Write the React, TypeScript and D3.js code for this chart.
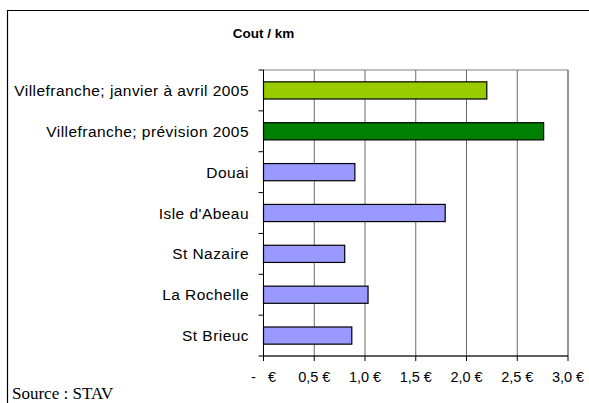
import React from "react";
import { scaleLinear, scaleBand } from "d3";

const categories = [
  "Villefranche; janvier à avril 2005",
  "Villefranche; prévision 2005",
  "Douai",
  "Isle d'Abeau",
  "St Nazaire",
  "La Rochelle",
  "St Brieuc",
];
const costs = [2.2, 2.76, 0.9, 1.79, 0.8, 1.03, 0.87];
const barColors = ["#99cc00", "#008000", "#9999ff", "#9999ff", "#9999ff", "#9999ff", "#9999ff"];
const xTicks = [0, 0.5, 1, 1.5, 2, 2.5, 3];
const title = "Cout / km";
const source = "Source : STAV";

const W = 589;
const H = 403;
const plot = { left: 263.5, right: 568, top: 70, bottom: 356 };

const fmt = (v: number) => (v === 0 ? "-   €" : v.toFixed(1).replace(".", ",") + " €");

const App = () => {
  const x = scaleLinear().domain([0, 3]).range([plot.left, plot.right]);
  const y = scaleBand<string>()
    .domain(categories)
    .range([plot.top, plot.bottom])
    .paddingInner(0.58)
    .paddingOuter(0.29);
  const step = y.step();

  return (
    <svg
      width={W}
      height={H}
      style={{ position: "absolute", left: 0, top: 0, background: "#fff" }}
      fontFamily="'Liberation Sans', Arial, sans-serif"
    >
      {/* outer chart frame, open on right and bottom */}
      <path d={`M7.5,${H} V10.5 H${W}`} fill="none" stroke="#000" strokeWidth={1.2} />

      <text x={plot.left} y={38} textAnchor="middle" fontSize={13.5} fontWeight="bold">
        {title}
      </text>

      {/* plot area border + gridlines */}
      <rect
        x={plot.left}
        y={plot.top}
        width={plot.right - plot.left}
        height={plot.bottom - plot.top}
        fill="#fff"
        stroke="#808080"
      />
      {xTicks.slice(1).map((t) => (
        <line key={t} x1={x(t)} x2={x(t)} y1={plot.top} y2={plot.bottom} stroke="#6a6a6a" />
      ))}

      {/* bars */}
      {categories.map((c, i) => (
        <rect
          key={c}
          x={x(0)}
          y={y(c)}
          width={x(costs[i]) - x(0)}
          height={y.bandwidth()}
          fill={barColors[i]}
          stroke="#000"
          strokeWidth={1.2}
        />
      ))}

      {/* y axis */}
      <line x1={plot.left} x2={plot.left} y1={plot.top} y2={plot.bottom} stroke="#000" />
      {categories.map((c, i) => (
        <line
          key={"yt" + i}
          x1={plot.left - 5}
          x2={plot.left}
          y1={plot.top + i * step}
          y2={plot.top + i * step}
          stroke="#000"
        />
      ))}
      <line x1={plot.left - 5} x2={plot.left} y1={plot.bottom} y2={plot.bottom} stroke="#000" />
      {categories.map((c) => (
        <text
          key={"yl" + c}
          x={249}
          y={(y(c) as number) + y.bandwidth() / 2}
          dy="0.36em"
          textAnchor="end"
          fontSize={15.5}
          letterSpacing={0.45}
        >
          {c}
        </text>
      ))}

      {/* x axis */}
      <line x1={plot.left} x2={plot.right} y1={plot.bottom} y2={plot.bottom} stroke="#000" />
      {xTicks.map((t) => (
        <g key={"xt" + t}>
          <line x1={x(t)} x2={x(t)} y1={plot.bottom} y2={plot.bottom + 5} stroke="#000" />
          <text
            x={x(t)}
            y={382}
            textAnchor="middle"
            fontSize={14.5}
            style={{ whiteSpace: "pre" }}
          >
            {fmt(t)}
          </text>
        </g>
      ))}

      <text x={12} y={399} fontFamily="'Liberation Serif', 'Times New Roman', serif" fontSize={17}>
        {source}
      </text>
    </svg>
  );
};

export default App;
